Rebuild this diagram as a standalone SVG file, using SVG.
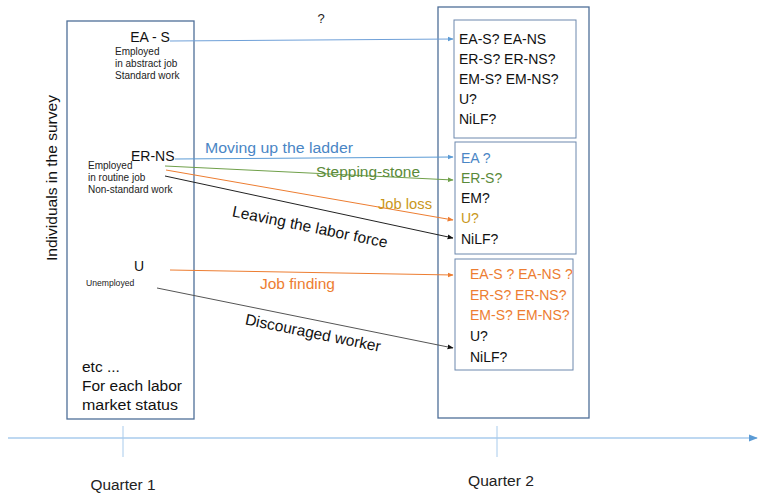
<svg xmlns="http://www.w3.org/2000/svg" width="759" height="493" viewBox="0 0 759 493">
<style>
text{font-family:"Liberation Sans","Noto Sans",sans-serif;}
.box{fill:#fff;stroke:#4f6f98;stroke-width:1.3;}
.ibox{fill:#fff;stroke:#6d88ad;stroke-width:1;}
.big{font-size:14px;fill:#111;}
.big2{font-size:15.5px;fill:#111;}
.sm{font-size:10px;fill:#222;}
.rt{font-size:14px;fill:#111;}
.lbl{font-size:15.5px;}
.q{font-size:14px;fill:#222;}
</style>
<defs>
<marker id="mb" viewBox="0 0 10 10" refX="9" refY="5" markerWidth="6" markerHeight="6" orient="auto"><path d="M0,1 L10,5 L0,9z" fill="#5b9bd5"/></marker>
<marker id="mg" viewBox="0 0 10 10" refX="9" refY="5" markerWidth="6" markerHeight="6" orient="auto"><path d="M0,1 L10,5 L0,9z" fill="#70a04a"/></marker>
<marker id="mo" viewBox="0 0 10 10" refX="9" refY="5" markerWidth="6" markerHeight="6" orient="auto"><path d="M0,1 L10,5 L0,9z" fill="#ed7d31"/></marker>
<marker id="mk" viewBox="0 0 10 10" refX="9" refY="5" markerWidth="6" markerHeight="6" orient="auto"><path d="M0,1 L10,5 L0,9z" fill="#111"/></marker>
</defs>

<g id="timeline">
<line x1="8" y1="438" x2="757" y2="438" stroke="#a8cbec" stroke-width="1.5" marker-end="url(#mb)"/>
<line x1="123" y1="426" x2="123" y2="457" stroke="#a8cbec" stroke-width="1"/>
<line x1="497" y1="426" x2="497" y2="457" stroke="#a8cbec" stroke-width="1"/>
<text class="q" x="123" y="490" text-anchor="middle" textLength="65" lengthAdjust="spacingAndGlyphs">Quarter 1</text>
<text class="q" x="501" y="486" text-anchor="middle" textLength="66" lengthAdjust="spacingAndGlyphs">Quarter 2</text>
</g>

<text x="321" y="23" font-size="13" fill="#222" text-anchor="middle">?</text>

<text class="big2" transform="translate(57,178) rotate(-90)" text-anchor="middle" textLength="166" lengthAdjust="spacingAndGlyphs">Individuals in the survey</text>

<g id="quarter1">
<rect class="box" x="67" y="21" width="127" height="398"/>
<text class="big" x="150" y="42" text-anchor="middle">EA - S</text>
<text class="sm" x="115" y="55">Employed</text>
<text class="sm" x="115" y="67">in abstract job</text>
<text class="sm" x="115" y="79">Standard work</text>
<text class="big" x="131" y="161">ER-NS</text>
<text class="sm" x="88" y="169">Employed</text>
<text class="sm" x="88" y="181">in routine job</text>
<text class="sm" x="88" y="193">Non-standard work</text>
<text class="big" x="139" y="271" text-anchor="middle">U</text>
<text class="sm" x="86" y="286" style="font-size:8.6px">Unemployed</text>
<text class="big2" x="82" y="372">etc ...</text>
<text class="big2" x="82" y="391" textLength="100" lengthAdjust="spacingAndGlyphs">For each labor</text>
<text class="big2" x="82" y="410" textLength="96" lengthAdjust="spacingAndGlyphs">market status</text>
</g>

<g id="quarter2">
<rect class="box" x="438" y="7" width="151" height="411"/>
</g>

<g id="box-eas">
<rect class="ibox" x="454" y="20" width="122" height="118"/>
<text class="rt" x="459" y="44">EA-S? EA-NS</text>
<text class="rt" x="459" y="64">ER-S? ER-NS?</text>
<text class="rt" x="459" y="84">EM-S? EM-NS?</text>
<text class="rt" x="459" y="104">U?</text>
<text class="rt" x="459" y="124">NiLF?</text>
</g>

<g id="box-erns">
<rect class="ibox" x="455" y="142" width="121" height="112"/>
<text class="rt" x="461" y="163" style="fill:#4a86c5">EA ?</text>
<text class="rt" x="461" y="183" style="fill:#5a8a3a">ER-S?</text>
<text class="rt" x="461" y="203">EM?</text>
<text class="rt" x="461" y="223" style="fill:#c9971a">U?</text>
<text class="rt" x="461" y="244">NiLF?</text>
</g>

<g id="box-u">
<rect class="ibox" x="455" y="259" width="118" height="111"/>
<text class="rt" x="470" y="279" style="fill:#ed7d31">EA-S ? EA-NS ?</text>
<text class="rt" x="470" y="300" style="fill:#ed7d31">ER-S? ER-NS?</text>
<text class="rt" x="470" y="320" style="fill:#ed7d31">EM-S? EM-NS?</text>
<text class="rt" x="470" y="341">U?</text>
<text class="rt" x="470" y="362">NiLF?</text>
</g>

<g id="connectors" fill="none" stroke-width="1">
<line x1="170" y1="41" x2="453" y2="39" stroke="#6fa0d8" marker-end="url(#mb)"/>
<line x1="175" y1="159" x2="453" y2="157" stroke="#5b9bd5" marker-end="url(#mb)"/>
<line x1="165" y1="166" x2="453" y2="180" stroke="#70a04a" marker-end="url(#mg)"/>
<line x1="166" y1="170" x2="453" y2="220" stroke="#ed7d31" marker-end="url(#mo)"/>
<line x1="165" y1="176" x2="453" y2="238" stroke="#222" marker-end="url(#mk)"/>
<line x1="170" y1="270" x2="453" y2="275" stroke="#ed7d31" marker-end="url(#mo)"/>
<line x1="157" y1="288" x2="453" y2="348" stroke="#555" marker-end="url(#mk)"/>
</g>

<g id="labels">
<text class="lbl" x="205" y="153" textLength="148" lengthAdjust="spacingAndGlyphs" style="fill:#4a86c5">Moving up the ladder</text>
<text class="lbl" x="316" y="177" textLength="104" lengthAdjust="spacingAndGlyphs" style="fill:#5a8a3a">Stepping-stone</text>
<text class="lbl" x="378" y="209" textLength="54" lengthAdjust="spacingAndGlyphs" style="fill:#c9971a">Job loss</text>
<text class="lbl" x="309" y="232" text-anchor="middle" transform="rotate(11.5 309 232)" textLength="158" lengthAdjust="spacingAndGlyphs" style="fill:#111">Leaving the labor force</text>
<text class="lbl" x="260" y="289" textLength="75" lengthAdjust="spacingAndGlyphs" style="fill:#ed7d31">Job finding</text>
<text class="lbl" x="312" y="338" text-anchor="middle" transform="rotate(11.5 312 338)" textLength="138" lengthAdjust="spacingAndGlyphs" style="fill:#111">Discouraged worker</text>
</g>
</svg>
